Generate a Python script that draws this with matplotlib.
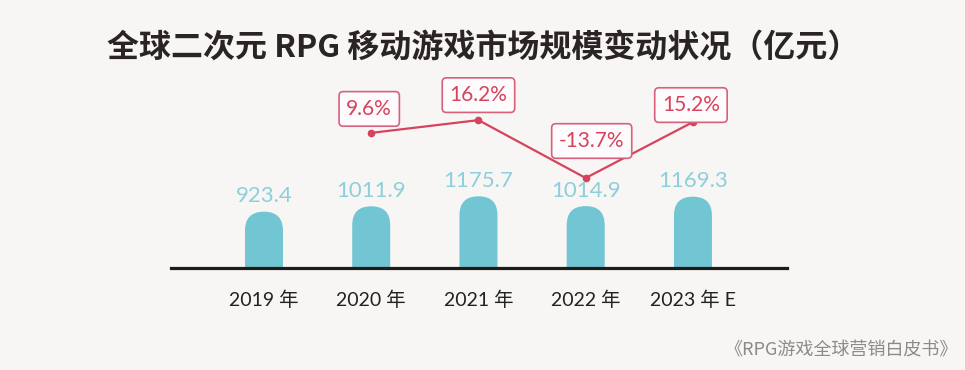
import matplotlib.pyplot as plt
from matplotlib.patches import FancyBboxPatch

plt.rcParams['font.family'] = ['Lato', 'Noto Sans CJK SC', 'DejaVu Sans']

years = ['2019 年', '2020 年', '2021 年', '2022 年', '2023 年 E']
market = [923.4, 1011.9, 1175.7, 1014.9, 1169.3]
growth_years = [1, 2, 3, 4]
growth = [9.6, 16.2, -13.7, 15.2]
growth_labels = ['9.6%', '16.2%', '-13.7%', '15.2%']

bg = '#f7f6f4'
bar_color = '#72c5d2'
value_color = '#8dcfdb'
red = '#d6435d'

fig = plt.figure(figsize=(9.65, 3.7), dpi=100, facecolor=bg)
ax = fig.add_axes([171 / 965, 102 / 370, 616 / 965, 198 / 370])
ax.set_facecolor('none')
ax.set_xlim(-0.867, 4.877)
ax.set_ylim(0, 3246)

# px per data unit, for rounded bar tops
x_per_px = (4.877 + 0.867) / 616
y_per_px = 3246 / 198
aspect = y_per_px / x_per_px
w = 38 * x_per_px
r = w / 2
for i, v in enumerate(market):
    ry = r * aspect
    p = FancyBboxPatch((i - w / 2, -ry), w, v + ry,
                       boxstyle=f"round,pad=0,rounding_size={r}",
                       mutation_aspect=aspect, fc=bar_color, ec='none',
                       clip_on=True)
    ax.add_patch(p)
    ax.annotate(f"{v:.1f}", (i, v), xytext=(0, 4), textcoords='offset points',
                ha='center', va='bottom', fontsize=16, color=value_color)

for s in ['top', 'right', 'left']:
    ax.spines[s].set_visible(False)
ax.spines['bottom'].set_linewidth(2.3)
ax.spines['bottom'].set_color('#1e1b1b')
ax.set_yticks([])
ax.set_xticks(range(len(years)))
ax.set_xticklabels(years, fontsize=14, color='#222222')
ax.tick_params(axis='x', length=0, pad=16)

# growth line
ax2 = ax.twinx()
ax2.set_ylim(-60.2, 42.1)
ax2.axis('off')
ax2.plot(growth_years, growth, color=red, lw=1.6, marker='o', ms=4.5)
offsets = [(-2, 24), (0, 25), (6, 37), (-2, 17)]
for x, g, lab, (dx, dy) in zip(growth_years, growth, growth_labels, offsets):
    ax2.annotate(lab, (x, g), xytext=(dx * 0.72, dy * 0.72), textcoords='offset points',
                 ha='center', va='center', fontsize=15, color=red,
                 bbox=dict(boxstyle='round,pad=0.35,rounding_size=0.2', fc='#fdfbfb',
                           ec='#d7607a', lw=1.2))

fig.text(483 / 965, 1 - 48 / 370, '全球二次元 RPG 移动游戏市场规模变动状况（亿元）',
         ha='center', va='center', fontsize=23, fontweight='bold', color='#2a2424',
         family=['Noto Sans CJK SC', 'DejaVu Sans'])
fig.text(958 / 965, 1 - 350 / 370, '《RPG游戏全球营销白皮书》', ha='right', va='center',
         fontsize=13, color='#8a8a8a', family=['Noto Sans CJK SC', 'DejaVu Sans'])

fig.savefig('out.png', dpi=100, facecolor=bg)
